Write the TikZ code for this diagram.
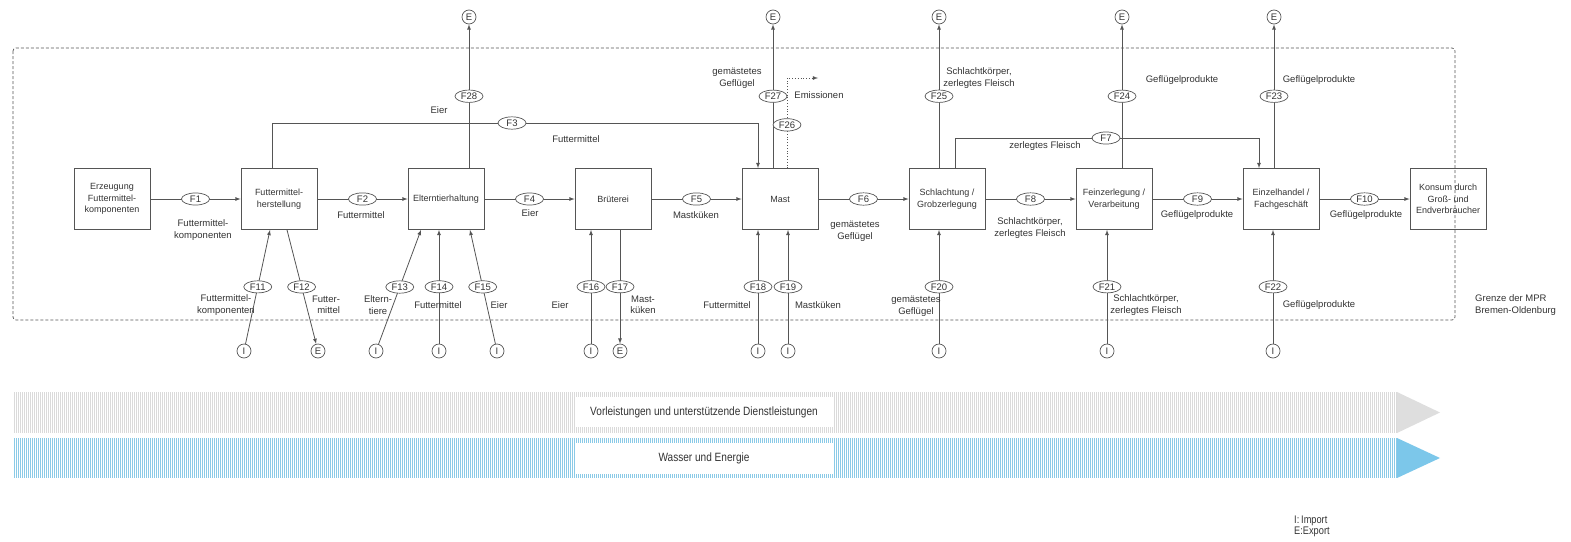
\documentclass[tikz,border=0pt]{standalone}
\usepackage{fontspec}
\setmainfont{Liberation Sans}
\newfontfamily\narrowfont[FakeStretch=0.84]{Liberation Sans}
\usetikzlibrary{arrows}
\usetikzlibrary{shapes}
\definecolor{linegray}{HTML}{555555}
\definecolor{txtgray}{HTML}{333333}
\definecolor{stripegray}{HTML}{DADADA}
\definecolor{tipgray}{HTML}{DEDEDE}
\definecolor{stripeblue}{HTML}{8ACAE7}
\definecolor{tipblue}{HTML}{7CC7EA}
\newcommand{\lblsize}{\fontsize{9.5}{11.5}\selectfont}
\newcommand{\stagesize}{\fontsize{9}{11.5}\selectfont}

\begin{document}
\begin{tikzpicture}[x = 1pt, y = -1pt]
	\tikzstyle{stageStyle} = [shape = rectangle, draw = linegray, line width = 0.8pt, minimum width = 76pt, minimum height = 61pt, inner sep = 2pt, align = center, font = \stagesize, text = txtgray]
	\tikzstyle{flowStyle} = [shape = ellipse, draw = linegray, line width = 0.7pt, fill = white, minimum width = 28pt, minimum height = 12pt, inner sep = 1pt, font = \lblsize, text = txtgray]
	\tikzstyle{endStyle} = [shape = circle, draw = linegray, line width = 0.7pt, minimum size = 14pt, inner sep = 0pt, font = \lblsize, text = txtgray]
	\tikzstyle{textStyle} = [align = center, inner sep = 0pt, font = \lblsize, text = txtgray]
	\tikzstyle{bandText} = [fill = white, minimum width = 258pt, inner sep = 0pt, font = \narrowfont\fontsize{12}{14}\selectfont, text = txtgray]
	\tikzstyle{arrowStyle} = [draw = linegray, line width = 0.8pt, -latex]
	\useasboundingbox (0,0) rectangle (1571,541);
	% system boundary
	\draw[linegray, line width = 0.7pt, dash pattern = on 3pt off 2pt, rounded corners = 3pt] (13,48) rectangle (1455,320);
	% stages
	\node[stageStyle] (erz) at (112,199) {Erzeugung\\Futtermittel-\\komponenten};
	\node[stageStyle] (fmh) at (279,199) {Futtermittel-\\herstellung};
	\node[stageStyle] (eth) at (446,199) {Elterntierhaltung};
	\node[stageStyle] (bru) at (613,199) {Brüterei};
	\node[stageStyle] (mast) at (780,199) {Mast};
	\node[stageStyle] (schl) at (947,199) {Schlachtung /\\Grobzerlegung};
	\node[stageStyle] (fein) at (1114,199) {Feinzerlegung /\\Verarbeitung};
	\node[stageStyle] (ezh) at (1281,199) {Einzelhandel /\\Fachgeschäft};
	\node[stageStyle] (kons) at (1448,199) {Konsum durch\\Groß- und\\Endverbraucher};
	% export circles on top
	\node[endStyle] (e28) at (469,17) {E};
	\node[endStyle] (e27) at (773,17) {E};
	\node[endStyle] (e25) at (939,17) {E};
	\node[endStyle] (e24) at (1122,17) {E};
	\node[endStyle] (e23) at (1274,17) {E};
	% import / export circles below
	\node[endStyle] (i11) at (244,351) {I};
	\node[endStyle] (e12) at (318,351) {E};
	\node[endStyle] (i13) at (376,351) {I};
	\node[endStyle] (i14) at (439,351) {I};
	\node[endStyle] (i15) at (497,351) {I};
	\node[endStyle] (i16) at (591,351) {I};
	\node[endStyle] (e17) at (620,351) {E};
	\node[endStyle] (i18) at (758,351) {I};
	\node[endStyle] (i19) at (788,351) {I};
	\node[endStyle] (i20) at (939,351) {I};
	\node[endStyle] (i21) at (1107,351) {I};
	\node[endStyle] (i22) at (1273,351) {I};
	% main chain
	\draw[arrowStyle] (erz) -- node[flowStyle] {F1} (fmh);
	\draw[arrowStyle] (fmh) -- node[flowStyle] {F2} (eth);
	\draw[arrowStyle] (eth) -- node[flowStyle] {F4} (bru);
	\draw[arrowStyle] (bru) -- node[flowStyle] {F5} (mast);
	\draw[arrowStyle] (mast) -- node[flowStyle] {F6} (schl);
	\draw[arrowStyle] (schl) -- node[flowStyle] {F8} (fein);
	\draw[arrowStyle] (fein) -- node[flowStyle] {F9} (ezh);
	\draw[arrowStyle] (ezh) -- node[flowStyle] {F10} (kons);
	% bypass flows
	\node[flowStyle] (f3) at (512,123) {F3};
	\node[flowStyle] (f7) at (1106,138) {F7};
	\draw[arrowStyle] ([xshift = -7pt]fmh.north) |- (f3) -| ([xshift = -22pt]mast.north);
	\draw[arrowStyle] ([xshift = 8pt]schl.north) |- (f7) -| ([xshift = -22pt]ezh.north);
	% exports on top
	\draw[arrowStyle] ([xshift = 23pt]eth.north) -- node[flowStyle] {F28} (e28);
	\draw[arrowStyle] ([xshift = -7pt]mast.north) -- node[flowStyle] {F27} (e27);
	\draw[arrowStyle] ([xshift = -8pt]schl.north) -- node[flowStyle] {F25} (e25);
	\draw[arrowStyle] ([xshift = 8pt]fein.north) -- node[flowStyle] {F24} (e24);
	\draw[arrowStyle] ([xshift = -7pt]ezh.north) -- node[flowStyle] {F23} (e23);
	\coordinate (emi) at (818,78);
	\draw[arrowStyle, dotted] ([xshift = 7pt]mast.north) |- node[flowStyle, pos = 0.24, solid] {F26} (emi);
	% imports and exports below
	\draw[arrowStyle] (i11) -- node[flowStyle] {F11} ([xshift = -9pt]fmh.south);
	\draw[arrowStyle] ([xshift = 8pt]fmh.south) -- node[flowStyle] {F12} (e12);
	\draw[arrowStyle] (i13) -- node[flowStyle] {F13} ([xshift = -25pt]eth.south);
	\draw[arrowStyle] (i14) -- node[flowStyle] {F14} ([xshift = -7pt]eth.south);
	\draw[arrowStyle] (i15) -- node[flowStyle] {F15} ([xshift = 24pt]eth.south);
	\draw[arrowStyle] (i16) -- node[flowStyle] {F16} ([xshift = -22pt]bru.south);
	\draw[arrowStyle] ([xshift = 7pt]bru.south) -- node[flowStyle] {F17} (e17);
	\draw[arrowStyle] (i18) -- node[flowStyle] {F18} ([xshift = -22pt]mast.south);
	\draw[arrowStyle] (i19) -- node[flowStyle] {F19} ([xshift = 8pt]mast.south);
	\draw[arrowStyle] (i20) -- node[flowStyle] {F20} ([xshift = -8pt]schl.south);
	\draw[arrowStyle] (i21) -- node[flowStyle] {F21} ([xshift = -7pt]fein.south);
	\draw[arrowStyle] (i22) -- node[flowStyle] {F22} ([xshift = -8pt]ezh.south);
	% flow texts
	\node[textStyle] (tF1) at (203,230) {Futtermittel-\\komponenten};
	\node[textStyle] (tF2) at (361,215) {Futtermittel};
	\node[textStyle] (tF4) at (530,213) {Eier};
	\node[textStyle] (tF5) at (696,215) {Mastküken};
	\node[textStyle] (tF6) at (855,231) {gemästetes\\Geflügel};
	\node[textStyle] (tF8) at (1030,228) {Schlachtkörper,\\zerlegtes Fleisch};
	\node[textStyle] (tF9) at (1197,215) {Geflügelprodukte};
	\node[textStyle] (tF10) at (1366,215) {Geflügelprodukte};
	\node[textStyle] (tF28) at (439,110) {Eier};
	\node[textStyle] (tF3) at (576,139) {Futtermittel};
	\node[textStyle] (tF27) at (737,78) {gemästetes\\Geflügel};
	\node[textStyle] (tF26) at (819,95) {Emissionen};
	\node[textStyle] (tF25) at (979,78) {Schlachtkörper,\\zerlegtes Fleisch};
	\node[textStyle] (tF7) at (1045,146) {zerlegtes Fleisch};
	\node[textStyle] (tF24) at (1182,80) {Geflügelprodukte};
	\node[textStyle] (tF23) at (1319,80) {Geflügelprodukte};
	\node[textStyle] (tF11) at (226,305) {Futtermittel-\\komponenten};
	\node[textStyle, align = right] (tF12) at (326,305) {Futter-\\mittel};
	\node[textStyle] (tF13) at (378,305) {Eltern-\\tiere};
	\node[textStyle] (tF14) at (438,305) {Futtermittel};
	\node[textStyle] (tF15) at (499,305) {Eier};
	\node[textStyle] (tF16) at (560,305) {Eier};
	\node[textStyle] (tF17) at (643,305) {Mast-\\küken};
	\node[textStyle] (tF18) at (727,305) {Futtermittel};
	\node[textStyle] (tF19) at (818,305) {Mastküken};
	\node[textStyle] (tF20) at (916,306) {gemästetes\\Geflügel};
	\node[textStyle] (tF21) at (1146,305) {Schlachtkörper,\\zerlegtes Fleisch};
	\node[textStyle] (tF22) at (1319,305) {Geflügelprodukte};
	\node[textStyle, align = left, anchor = west] (grenze) at (1475,305) {Grenze der MPR\\Bremen-Oldenburg};
	% support bands
	\foreach \x in {14,16,...,1396} {
		\draw[stripegray, line width = 0.9pt] (\x,392) -- (\x,433);
		\draw[stripeblue, line width = 0.9pt] (\x,438) -- (\x,478);
	}
	\fill[tipgray] (1397,392) -- (1440,412.5) -- (1397,433) -- cycle;
	\fill[tipblue] (1397,438) -- (1440,458) -- (1397,478) -- cycle;
	\node[bandText, minimum height = 30pt] (vorl) at (704,412) {Vorleistungen und unterstützende Dienstleistungen};
	\node[bandText, minimum height = 31pt] (wasser) at (704,458) {Wasser und Energie};
	\node[align = left, anchor = west, inner sep = 0pt, font = \narrowfont\fontsize{11}{11.5}\selectfont, text = txtgray] (legende) at (1294,526.5) {I:\,Import\\E:Export};
\end{tikzpicture}
\end{document}
